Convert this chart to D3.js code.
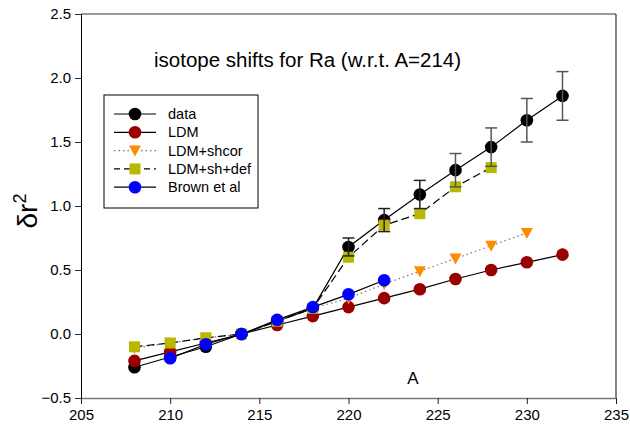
<!DOCTYPE html>
<html>
<head>
<meta charset="utf-8">
<script src="https://cdn.jsdelivr.net/npm/d3@7"></script>
<style>
  body { margin: 0; background: #fff; }
  text { font-family: "Liberation Sans", Arial, sans-serif; }
</style>
</head>
<body>
<div id="wrapper"></div>
<script>
// values
const massNumbers = [208, 210, 212, 214, 216, 218, 220, 222, 224, 226, 228, 230, 232]
const dataValues = [-0.26, -0.18, -0.10, 0, 0.10, 0.20, 0.68, 0.89, 1.09, 1.28, 1.46, 1.67, 1.86]
const dataErrors = [0, 0, 0, 0, 0, 0, 0.07, 0.09, 0.11, 0.13, 0.15, 0.17, 0.19]
const ldmValues = [-0.21, -0.14, -0.07, 0, 0.07, 0.14, 0.21, 0.28, 0.35, 0.43, 0.50, 0.56, 0.62]
const shcorA = [208, 210, 212, 214, 216, 218, 220, 222, 224, 226, 228, 230]
const shcorValues = [-0.11, -0.07, -0.03, 0, 0.10, 0.20, 0.28, 0.39, 0.49, 0.59, 0.69, 0.79]
const shdefA = [208, 210, 212, 214, 216, 218, 220, 222, 224, 226, 228]
const shdefValues = [-0.10, -0.07, -0.03, 0, 0.10, 0.20, 0.60, 0.85, 0.94, 1.15, 1.30]
const brownA = [210, 212, 214, 216, 218, 220, 222]
const brownValues = [-0.19, -0.08, 0, 0.11, 0.21, 0.31, 0.42]
const xTicks = [205, 210, 215, 220, 225, 230, 235]
const yTicks = [-0.5, 0.0, 0.5, 1.0, 1.5, 2.0, 2.5]

const width = 630
const height = 426
const margin = {left: 81, right: 14, top: 14, bottom: 28}

const svg = d3.select("#wrapper").append("svg")
  .attr("width", width)
  .attr("height", height)

const x = d3.scaleLinear().domain([205, 235]).range([margin.left, width - margin.right])
const y = d3.scaleLinear().domain([-0.5, 2.5]).range([height - margin.bottom, margin.top])

// frame
svg.append("line")
  .attr("x1", x(205)).attr("x2", x(235)).attr("y1", y(2.5)).attr("y2", y(2.5))
  .attr("stroke", "#777").attr("stroke-width", 1.5)
svg.append("line")
  .attr("x1", x(235)).attr("x2", x(235)).attr("y1", y(2.5)).attr("y2", y(-0.5))
  .attr("stroke", "#333").attr("stroke-width", 1.2)

const xAxis = svg.append("g")
  .attr("transform", `translate(0,${y(-0.5)})`)
  .call(d3.axisBottom(x).tickValues(xTicks).tickSize(6).tickSizeOuter(0).tickPadding(5).tickFormat(d3.format("d")))
xAxis.select(".domain").attr("stroke", "#777").attr("stroke-width", 1.5)
xAxis.selectAll(".tick line").attr("stroke", "#222")
xAxis.selectAll("text").attr("font-size", 15).attr("fill", "#000")

const yAxis = svg.append("g")
  .attr("transform", `translate(${x(205)},0)`)
  .call(d3.axisLeft(y).tickValues(yTicks).tickSize(6).tickSizeOuter(0).tickPadding(4).tickFormat(d3.format(".1f")))
yAxis.select(".domain").attr("stroke", "#000")
yAxis.selectAll(".tick line").attr("stroke", "#222")
yAxis.selectAll("text").attr("font-size", 15).attr("fill", "#000")

// series
const series = [
  {name: "data", xs: massNumbers, ys: dataValues, color: "#000", shape: "circle", dash: null, lineColor: "#000"},
  {name: "LDM", xs: massNumbers, ys: ldmValues, color: "#990000", shape: "circle", dash: null, lineColor: "#000"},
  {name: "LDM+shcor", xs: shcorA, ys: shcorValues, color: "#ff8c00", shape: "triangle", dash: "1.5,3", lineColor: "#777"},
  {name: "LDM+sh+def", xs: shdefA, ys: shdefValues, color: "#b8b800", shape: "square", dash: "8,4", lineColor: "#000"},
  {name: "Brown et al", xs: brownA, ys: brownValues, color: "#0000ff", shape: "circle", dash: null, lineColor: "#000"}
]

const line = d3.line().x(d => x(d[0])).y(d => y(d[1]))

function drawMarker(g, shape, color, cx, cy) {
  if (shape == "circle") {
    g.append("circle").attr("cx", cx).attr("cy", cy).attr("r", 6.3).attr("fill", color)
  } else if (shape == "square") {
    g.append("rect").attr("x", cx - 5.5).attr("y", cy - 5.5).attr("width", 11).attr("height", 11).attr("fill", color)
  } else {
    g.append("path").attr("d", `M${cx - 6},${cy - 5} L${cx + 6},${cy - 5} L${cx},${cy + 6} Z`).attr("fill", color)
  }
}

series.forEach(s => {
  const pts = s.xs.map((a, i) => [a, s.ys[i]])
  const g = svg.append("g")
  g.append("path")
    .attr("d", line(pts))
    .attr("fill", "none")
    .attr("stroke", s.lineColor)
    .attr("stroke-width", 1.2)
    .attr("stroke-dasharray", s.dash)
  pts.forEach(p => drawMarker(g, s.shape, s.color, x(p[0]), y(p[1])))
})

// error bars on the data
const errG = svg.append("g")
massNumbers.forEach((a, i) => {
  const e = dataErrors[i]
  if (!e) return
  const cx = x(a)
  const col = a >= 226 ? "#555" : "#222"
  errG.append("line").attr("x1", cx).attr("x2", cx)
    .attr("y1", y(dataValues[i] + e)).attr("y2", y(dataValues[i] - e))
    .attr("stroke", col).attr("stroke-width", 1.5)
  ;[e, -e].forEach(d => {
    errG.append("line").attr("x1", cx - 6).attr("x2", cx + 6)
      .attr("y1", y(dataValues[i] + d)).attr("y2", y(dataValues[i] + d))
      .attr("stroke", col).attr("stroke-width", 1.5)
  })
})

// legend
const legend = svg.append("g")
legend.append("rect")
  .attr("x", 104).attr("y", 95).attr("width", 154).attr("height", 113)
  .attr("fill", "#fff").attr("stroke", "#000").attr("stroke-width", 1)
series.forEach((s, i) => {
  const ly = 114 + i * 18.3
  legend.append("line")
    .attr("x1", 114).attr("x2", 156).attr("y1", ly).attr("y2", ly)
    .attr("stroke", s.lineColor).attr("stroke-width", 1.2)
    .attr("stroke-dasharray", s.dash == "8,4" ? "6,4" : s.dash)
  drawMarker(legend, s.shape, s.color, 135, ly)
  legend.append("text")
    .attr("x", 168).attr("y", ly + 5)
    .attr("font-size", 14.5)
    .text(s.name)
})

// titles
svg.append("text")
  .attr("x", 154).attr("y", 67)
  .attr("font-size", 20.5)
  .text("isotope shifts for Ra (w.r.t. A=214)")

svg.append("text")
  .attr("x", 413).attr("y", 384)
  .attr("text-anchor", "middle")
  .attr("font-size", 17)
  .text("A")

const yl = svg.append("text")
  .attr("transform", `translate(37,211) rotate(-90)`)
  .attr("text-anchor", "middle")
  .attr("font-size", 28)
yl.append("tspan").text("δr")
yl.append("tspan").attr("font-size", 18).attr("dy", -11).text("2")
</script>
</body>
</html>
